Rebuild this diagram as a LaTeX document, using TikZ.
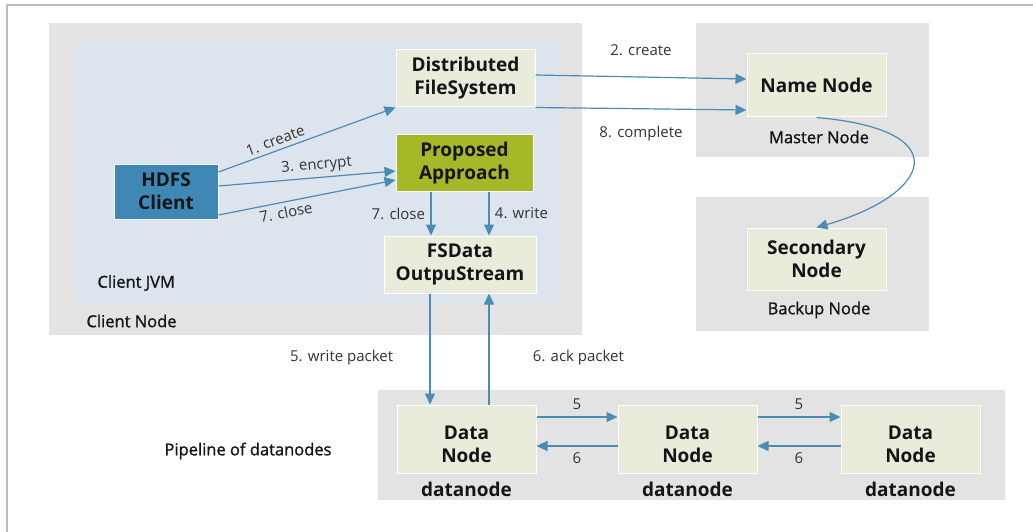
\documentclass[tikz,border=0pt]{standalone}
\usepackage{fontspec}
\setmainfont{Open Sans}
\newfontfamily\semib[FakeBold=1.2]{Open Sans}
\usetikzlibrary{arrows.meta}

\definecolor{grp}{HTML}{E3E3E3}
\definecolor{jvm}{HTML}{DCE5EE}
\definecolor{box}{HTML}{E9EBDB}
\definecolor{flow}{HTML}{4A8CB4}
\definecolor{client}{HTML}{3F87B4}
\definecolor{propos}{HTML}{A4B828}
\definecolor{frame}{HTML}{BDBDBD}
\definecolor{txt}{HTML}{151515}

\tikzset{
  unit/.style={fill=box, draw=white, line width=1pt, text=txt, align=center, inner sep=0pt,
    font=\fontsize{19}{23}\selectfont\bfseries},
  arr/.style={draw=flow, line width=1.2pt, -{Triangle[length=11pt,width=10pt]}},
  lab/.style={font=\fontsize{15}{18}\selectfont, text=black!80},
  grplab/.style={font=\fontsize{16.5}{20}\selectfont\semib, text=txt},
}

\begin{document}
\begin{tikzpicture}[x=1pt, y=-1pt]
    \useasboundingbox (0,0) rectangle (1033,532);

    % Cadre
    \draw[frame, line width=2pt] (7,532) -- (7,5) -- (1033,5);

    % Zones grises
    \fill[grp] (49,23) rectangle (582,335);
    \fill[jvm] (78,42) rectangle (560,303);
    \fill[grp] (696,23) rectangle (929,157);
    \fill[grp] (696,197) rectangle (929,331);
    \fill[grp] (378,390) rectangle (1005,500);

    % Client
    \node[unit, fill=client, minimum width=104, minimum height=55] (hdfs) at (166,191.5) {HDFS\\Client};
    \node[unit, minimum width=139, minimum height=57] (dfs) at (465.5,78.5) {Distributed\\FileSystem};
    \node[unit, fill=propos, minimum width=137, minimum height=56] (pa) at (464.5,163) {Proposed\\Approach};
    \node[unit, minimum width=152, minimum height=57] (fsd) at (460,264.5) {FSData\\OutpuStream};
    \node[grplab, anchor=west] (jvmlab) at (94,283) {Client JVM};
    \node[grplab, anchor=west] (cnlab) at (83,321) {Client Node};

    % Master et backup
    \node[unit, minimum width=139, minimum height=63] (name) at (816.5,85.5) {Name Node};
    \node[grplab] (mlab) at (819,137) {Master Node};
    \node[unit, minimum width=139, minimum height=62] (sec) at (816.5,259) {Secondary\\Node};
    \node[grplab] (blab) at (819,310) {Backup Node};

    % Pipeline
    \node[grplab] (plab) at (248,451) {Pipeline of datanodes};
    \foreach \i/\x in {1/466.5, 2/687.5, 3/910.5} {
        \node[unit, minimum width=139, minimum height=68] (dn\i) at (\x,439) {\rule{0pt}{24pt}Data\\Node};
        \node[font=\fontsize{19}{20}\selectfont\bfseries, text=txt] (dl\i) at (\x,489) {datanode};
    }

    % Fleches du client
    \draw[arr] ([yshift=19.5pt]hdfs.east) -- (dfs.south west)
        node[lab, sloped, inner sep=0pt, above=4pt, pos=0.34] {1. create};
    \draw[arr] ([yshift=5.5pt]hdfs.east) -- ([yshift=-8pt]pa.west)
        node[lab, sloped, inner sep=0pt, above=4pt, pos=0.56] {3. encrypt};
    \draw[arr] ([yshift=-23.5pt]hdfs.east) -- ([yshift=-17pt]pa.west)
        node[lab, sloped, inner sep=0pt, below=4pt, pos=0.37] {7. close};
    \draw[arr] ([xshift=-33.5pt]pa.south) -- ([xshift=-33.5pt]pa.south |- fsd.north)
        node[lab, left=2pt, midway] {7. close};
    \draw[arr] ([xshift=24.5pt]pa.south) -- ([xshift=24.5pt]pa.south |- fsd.north)
        node[lab, right=2pt, midway] {4. write};

    % Vers le name node
    \draw[arr] ([yshift=3.5pt]dfs.east) -- ([yshift=6.5pt]name.west)
        node[lab, above=17pt, midway] {2. create};
    \draw[arr] (dfs.south east) -- ([yshift=-24.5pt]name.west)
        node[lab, below=13pt, midway] {8. complete};
    \draw[arr] (name.south) .. controls (960,130) and (930,195) .. (sec.north);

    % Paquets
    \draw[arr] ([xshift=-30pt]fsd.south) -- ([xshift=-30pt]fsd.south |- dn1.north)
        node[lab, left=33pt, pos=0.58] {5. write packet};
    \draw[arr] ([xshift=29pt]fsd.south |- dn1.north) -- ([xshift=29pt]fsd.south)
        node[lab, right=40pt, pos=0.42] {6. ack packet};
    \draw[arr] ([yshift=22pt]dn1.east) -- ([yshift=22pt]dn2.west) node[lab, above=3pt, midway] {5};
    \draw[arr] ([yshift=-7pt]dn2.west) -- ([yshift=-7pt]dn1.east) node[lab, below=3pt, midway] {6};
    \draw[arr] ([yshift=22pt]dn2.east) -- ([yshift=22pt]dn3.west) node[lab, above=3pt, midway] {5};
    \draw[arr] ([yshift=-7pt]dn3.west) -- ([yshift=-7pt]dn2.east) node[lab, below=3pt, midway] {6};
\end{tikzpicture}
\end{document}
